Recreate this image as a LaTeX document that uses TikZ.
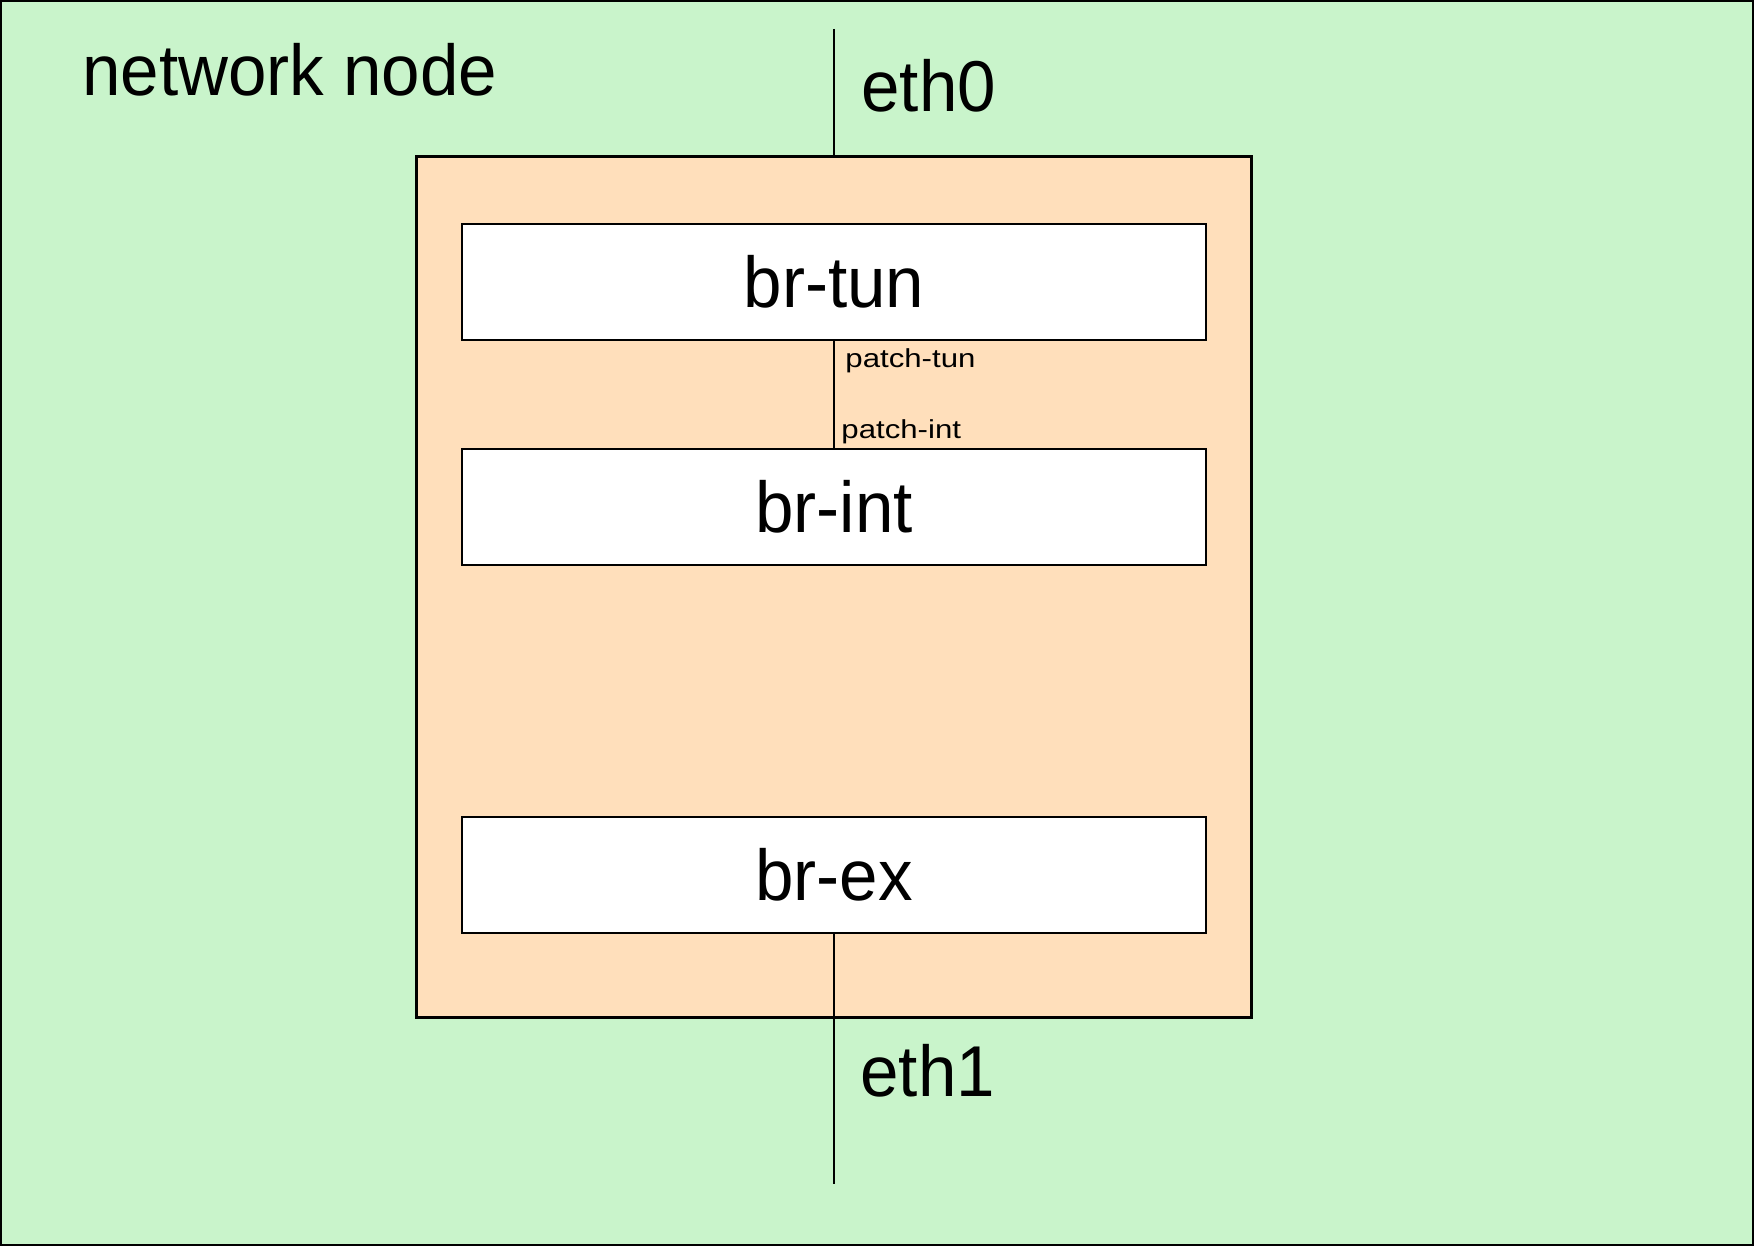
\documentclass[tikz,border=0pt]{standalone}
\usepackage{fontspec}
\setmainfont{Liberation Sans}[FakeStretch=0.96]
\newfontfamily\portfont{Liberation Sans}[FakeStretch=1.2]
\definecolor{nodegreen}{RGB}{201,244,203}
\definecolor{hostorange}{RGB}{255,223,187}

\begin{document}
\begin{tikzpicture}[x=0.5pt, y=-0.5pt,
  bridge/.style = {shape=rectangle, draw, fill=white, line width=1pt,
    minimum width=372pt, minimum height=58pt, inner sep=0pt,
    font=\fontsize{36}{40}\selectfont},
  biglabel/.style = {font=\fontsize{36}{40}\selectfont, inner sep=0pt,
    anchor=base west},
  portlabel/.style = {font=\portfont\fontsize{13}{15}\selectfont,
    inner sep=0pt, anchor=base west},
  wire/.style = {line width=0.75pt}]
  \useasboundingbox (0,0) rectangle (1754,1246);
  % outer frame
  \draw[fill=nodegreen, line width=1pt] (1,1) rectangle (1753,1245);
  \node[biglabel] (title) at (82,96) {network node};
  % host box
  \node[draw, fill=hostorange, line width=1.5pt, minimum width=417.5pt,
    minimum height=430pt, inner sep=0pt] (host) at (834,587) {};
  % bridges
  \node[bridge] (brtun) at (834,282) {br-tun};
  \node[bridge] (brint) at (834,507) {br-int};
  \node[bridge] (brex) at (834,874.5) {br-ex};
  % wires
  \coordinate (eth0end) at (834,29);
  \coordinate (eth1end) at (834,1184);
  \draw[wire] (eth0end) -- (host.north);
  \draw[wire] (brtun.south) -- (brint.north);
  \draw[wire] (brex.south) -- (eth1end);
  % labels
  \node[biglabel] (eth0) at (861,112) {eth0};
  \node[biglabel] (eth1) at (860,1096) {eth1};
  \node[portlabel] (ptun) at (845,367) {patch-tun};
  \node[portlabel] (pint) at (841,438) {patch-int};
\end{tikzpicture}
\end{document}
